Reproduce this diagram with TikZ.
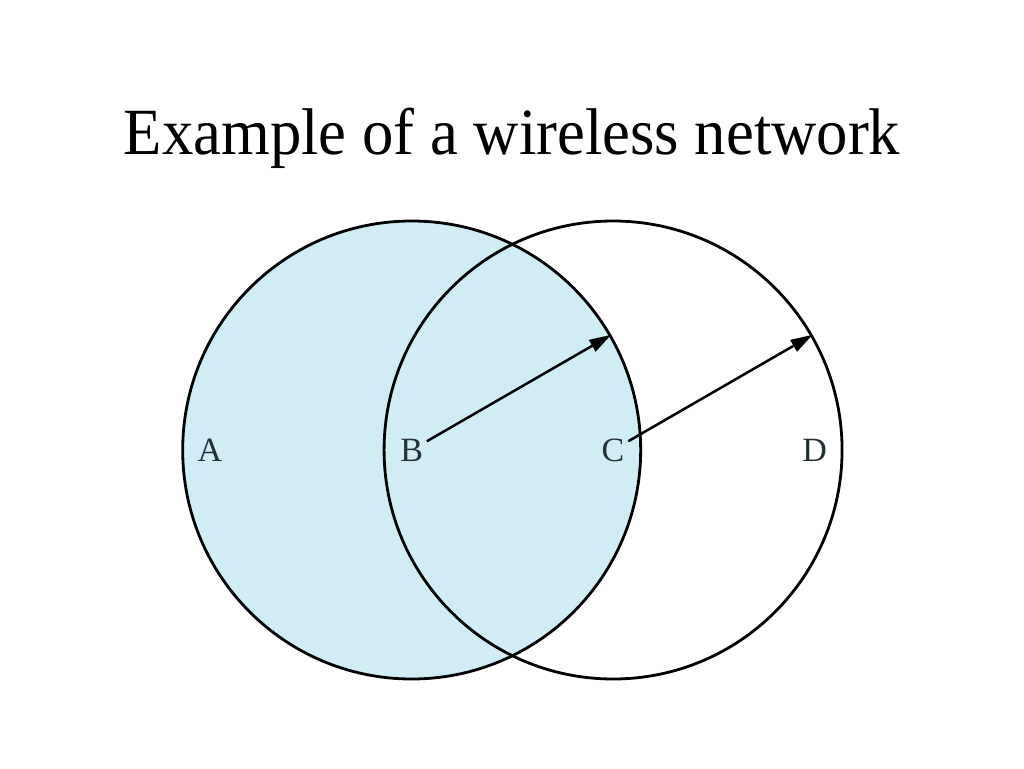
\documentclass[tikz,border=0pt]{standalone}
\usepackage{fontspec}
\setmainfont{Liberation Serif}
\usetikzlibrary{arrows.meta, positioning, backgrounds}
\definecolor{rangeblue}{RGB}{208,237,246}
\definecolor{labelgray}{RGB}{35,48,54}
\tikzstyle{station}=[minimum width=30pt, inner sep=3pt, text=labelgray, font=\fontsize{34}{36}\selectfont]
\tikzstyle{coverage}=[circle, draw=black, line width=2.8pt, minimum size=458pt, inner sep=0pt]
\tikzstyle{signal}=[line width=2.5pt, -{Triangle[length=22pt,width=13pt]}]

\begin{document}
\begin{tikzpicture}[x=1pt, y=-1pt, node distance=171pt]
  \useasboundingbox (0,0) rectangle (1024,768);
  \node[font=\fontsize{66}{72}\selectfont, xscale=0.95] (title) at (512,138) {Example of a wireless network};
  \node[station] (A) at (210,450) {A};
  \node[station] (B) [right=of A] {B};
  \node[station] (C) [right=of B] {C};
  \node[station] (D) [right=of C] {D};
  % transmission ranges of B and C
  \begin{scope}[on background layer]
    \node[coverage, fill=rangeblue] (rangeB) at (B) {};
    \node[coverage] (rangeC) at (C) {};
  \end{scope}
  \draw[signal] (B) -- (rangeB.30);
  \draw[signal] (C) -- (rangeC.30);
\end{tikzpicture}
\end{document}
